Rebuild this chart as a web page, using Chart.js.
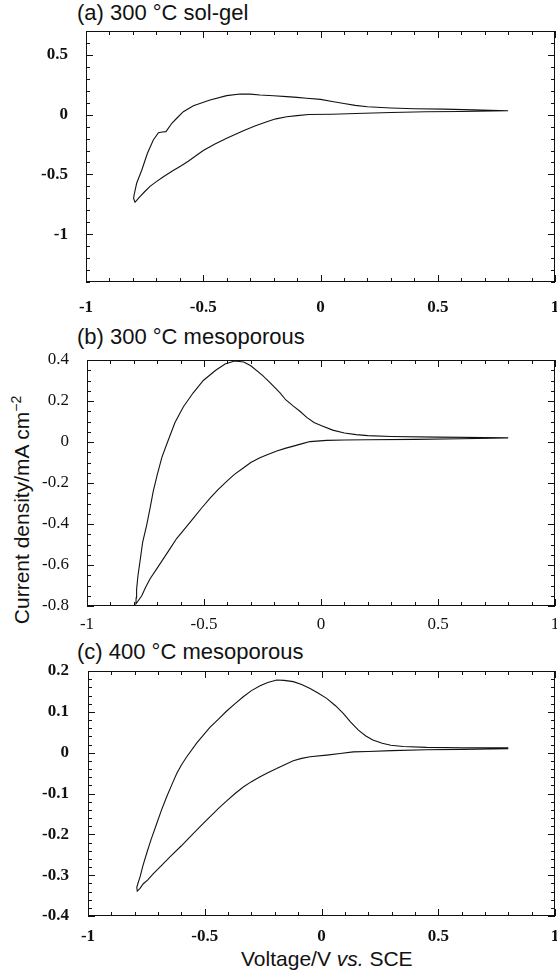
<!DOCTYPE html>
<html>
<head>
<meta charset="utf-8">
<script src="https://cdn.jsdelivr.net/npm/chart.js@4.4.1/dist/chart.umd.min.js"></script>
<style>
  body { margin: 0; background: #fff; width: 557px; height: 975px; position: relative; overflow: hidden;
         font-family: "Liberation Sans", Arial, sans-serif; color: #111; }
  canvas { position: absolute; left: 0; }
  .title { position: absolute; left: 77px; font-size: 22px; line-height: 22px; white-space: nowrap; }
  #ylabel { position: absolute; left: 21px; top: 510px; font-size: 21px; line-height: 21px; white-space: nowrap;
            transform: translate(-50%, -50%) rotate(-90deg); }
  #ylabel sup { font-size: 14px; vertical-align: 8px; line-height: 0; }
  #xlabel { position: absolute; left: 241px; top: 948px; font-size: 21px; line-height: 21px; white-space: nowrap; }
</style>
</head>
<body>
<div class="title" style="top:2px">(a) 300 °C sol-gel</div>
<div class="title" style="top:326px">(b) 300 °C mesoporous</div>
<div class="title" style="top:641px">(c) 400 °C mesoporous</div>
<div id="ylabel">Current density/mA cm<sup>−2</sup></div>
<div id="xlabel">Voltage/V <i>vs.</i> SCE</div>

<canvas id="panel-a" width="557" height="330" style="top:0px"></canvas>
<canvas id="panel-b" width="557" height="330" style="top:325px"></canvas>
<canvas id="panel-c" width="557" height="330" style="top:640px"></canvas>

<script>
/* 순환전압전류 곡선 3개 패널 */

const X_TICKS = [-1, -0.5, 0, 0.5, 1];
const A_TICKS = [-1, -0.5, 0, 0.5];
const B_TICKS = [-0.8, -0.6, -0.4, -0.2, 0, 0.2, 0.4];
const C_TICKS = [-0.4, -0.3, -0.2, -0.1, 0, 0.1, 0.2];

// (a) 300 °C sol-gel : 0.8 V에서 음극 방향 → 꼭지점 → 양극 방향 복귀
const A_V = [0.8, 0.6, 0.45, 0.3, 0.15, 0.05, -0.05, -0.1, -0.144, -0.19, -0.229, -0.28, -0.329, -0.4, -0.45,
  -0.5, -0.564, -0.592, -0.63, -0.67, -0.7, -0.727, -0.75, -0.77, -0.783, -0.791,
  -0.797, -0.795, -0.784, -0.762, -0.738, -0.713, -0.691, -0.675, -0.659, -0.634, -0.613, -0.585, -0.542,
  -0.471, -0.4, -0.343, -0.3, -0.258, -0.2, -0.144, -0.1, -0.059, 0, 0.05, 0.1, 0.148, 0.2, 0.3, 0.4,
  0.527, 0.65, 0.8];
const A_J = [0.033, 0.027, 0.024, 0.018, 0.01, 0.004, 0.002, -0.008, -0.017, -0.035, -0.059, -0.095, -0.134,
  -0.197, -0.245, -0.3, -0.39, -0.425, -0.47, -0.519, -0.56, -0.6, -0.645, -0.686, -0.715, -0.733,
  -0.7, -0.672, -0.574, -0.463, -0.323, -0.212, -0.151, -0.145, -0.142, -0.072, -0.03, 0.025, 0.075,
  0.123, 0.159, 0.173, 0.172, 0.165, 0.158, 0.151, 0.145, 0.137, 0.128, 0.11, 0.093, 0.078, 0.066, 0.056,
  0.05, 0.046, 0.04, 0.033];

// (b) 300 °C mesoporous
const B_V = [0.8, 0.6, 0.4, 0.2, 0.1, 0.024, -0.047, -0.08, -0.118, -0.15, -0.189, -0.23, -0.261, -0.3,
  -0.332, -0.37, -0.403, -0.44, -0.474, -0.51, -0.546, -0.58, -0.617, -0.645, -0.674, -0.7, -0.731, -0.75,
  -0.766, -0.791,
  -0.79, -0.788, -0.782, -0.774, -0.762, -0.745, -0.73, -0.717, -0.7, -0.68, -0.659, -0.624, -0.588,
  -0.546, -0.503, -0.45, -0.41, -0.37, -0.33, -0.3, -0.25, -0.218, -0.175, -0.15, -0.118, -0.09, -0.061,
  -0.03, 0, 0.05, 0.1, 0.15, 0.2, 0.3, 0.5, 0.8];
const B_J = [0.02, 0.016, 0.013, 0.011, 0.01, 0.008, 0.002, -0.008, -0.02, -0.03, -0.044, -0.062, -0.077,
  -0.1, -0.127, -0.158, -0.192, -0.232, -0.274, -0.322, -0.373, -0.42, -0.471, -0.52, -0.57, -0.615,
  -0.668, -0.71, -0.75, -0.79,
  -0.76, -0.718, -0.65, -0.586, -0.488, -0.405, -0.32, -0.241, -0.16, -0.075, -0.01, 0.095, 0.172, 0.24,
  0.3, 0.35, 0.38, 0.395, 0.39, 0.372, 0.325, 0.29, 0.24, 0.205, 0.175, 0.15, 0.12, 0.095, 0.08, 0.058,
  0.044, 0.036, 0.031, 0.027, 0.024, 0.021];

// (c) 400 °C mesoporous
const C_V = [0.8, 0.6, 0.45, 0.3, 0.2, 0.136, 0.08, 0.022, -0.049, -0.085, -0.121, -0.16, -0.192, -0.23,
  -0.263, -0.3, -0.335, -0.37, -0.406, -0.44, -0.478, -0.52, -0.563, -0.6, -0.649, -0.69, -0.72, -0.745,
  -0.763, -0.778, -0.789,
  -0.791, -0.785, -0.777, -0.765, -0.749, -0.73, -0.706, -0.685, -0.663, -0.64, -0.62, -0.6, -0.577,
  -0.534, -0.478, -0.44, -0.406, -0.37, -0.335, -0.3, -0.263, -0.23, -0.192, -0.16, -0.121, -0.085,
  -0.049, -0.015, 0.022, 0.06, 0.093, 0.125, 0.158, 0.19, 0.22, 0.26, 0.297, 0.35, 0.45, 0.6, 0.8];
const C_J = [0.01, 0.008, 0.007, 0.005, 0.003, 0.002, -0.002, -0.006, -0.01, -0.014, -0.02, -0.03, -0.039,
  -0.049, -0.059, -0.071, -0.084, -0.1, -0.118, -0.136, -0.157, -0.181, -0.206, -0.228, -0.255, -0.279,
  -0.296, -0.312, -0.321, -0.333, -0.339,
  -0.33, -0.318, -0.304, -0.277, -0.247, -0.213, -0.174, -0.14, -0.108, -0.077, -0.051, -0.03, -0.01,
  0.024, 0.062, 0.083, 0.102, 0.12, 0.137, 0.152, 0.164, 0.172, 0.178, 0.177, 0.174, 0.167, 0.157, 0.146,
  0.133, 0.115, 0.096, 0.075, 0.055, 0.041, 0.031, 0.023, 0.018, 0.015, 0.013, 0.012, 0.012];

const INK = "#111";
const SERIF = '"Liberation Serif", "Times New Roman", serif';

/* ── 테두리 + 안쪽 눈금 ── */
const frame = {
  id: "frame",
  afterDatasetsDraw(chart, args, opts) {
    const { ctx, chartArea: a, scales } = chart;
    ctx.save();
    ctx.strokeStyle = INK;
    ctx.lineWidth = 1;
    ctx.strokeRect(a.left + 0.5, a.top + 0.5, a.right - a.left - 1, a.bottom - a.top - 1);
    ctx.beginPath();
    const isMajor = (v, step) => Math.abs(v / step - Math.round(v / step)) < 1e-6;
    const xs = scales.x;
    const nx = Math.round((xs.max - xs.min) / 0.1);
    for (let k = 0; k <= nx; k++) {
      const v = xs.min + k * 0.1;
      const px = Math.round(xs.getPixelForValue(v)) + 0.5;
      const len = isMajor(v, 0.5) ? 7 : 4;
      ctx.moveTo(px, a.bottom); ctx.lineTo(px, a.bottom - len);
      ctx.moveTo(px, a.top); ctx.lineTo(px, a.top + len);
    }
    const ys = scales.y;
    const ny = Math.round((ys.max - ys.min) / opts.minor);
    for (let k = 0; k <= ny; k++) {
      const v = ys.min + k * opts.minor;
      const py = Math.round(ys.getPixelForValue(v)) + 0.5;
      const len = isMajor(v, opts.major) ? 7 : 4;
      ctx.moveTo(a.left, py); ctx.lineTo(a.left + len, py);
      ctx.moveTo(a.right, py); ctx.lineTo(a.right - len, py);
    }
    ctx.stroke();
    ctx.restore();
  },
};

function makePanel(id, volts, amps, yTicks, o) {
  return new Chart(document.getElementById(id), {
    type: "scatter",
    data: {
      datasets: [{
        data: volts.map((x, i) => ({ x, y: amps[i] })),
        showLine: true,
        borderColor: INK,
        borderWidth: 1.1,
        pointRadius: 0,
        tension: 0,
        fill: false,
      }],
    },
    options: {
      responsive: false,
      animation: false,
      devicePixelRatio: 1,
      layout: { padding: o.pad },
      plugins: {
        legend: { display: false },
        tooltip: { enabled: false },
        frame: { minor: o.yMinor, major: o.yMajor },
      },
      scales: {
        x: {
          type: "linear", min: -1, max: 1,
          grid: { display: false }, border: { display: false },
          afterBuildTicks: (s) => { s.ticks = X_TICKS.map((value) => ({ value })); },
          afterFit: (s) => { s.height = 40; s.paddingLeft = 0; s.paddingRight = 0; },
          ticks: { font: o.font, color: INK, padding: o.xPad, maxRotation: 0, autoSkip: false,
                   callback: (v) => String(v) },
        },
        y: {
          type: "linear", min: o.yMin, max: o.yMax,
          grid: { display: false }, border: { display: false },
          afterBuildTicks: (s) => { s.ticks = yTicks.map((value) => ({ value })); },
          afterFit: (s) => { s.width = 50; s.paddingTop = 0; s.paddingBottom = 0; },
          ticks: { font: o.font, color: INK, padding: o.yPad, autoSkip: false,
                   callback: (v) => String(v) },
        },
      },
    },
    plugins: [frame],
  });
}

const boldFont = { family: SERIF, size: 17, weight: "bold" };
const plainFont = { family: SERIF, size: 17, weight: "normal" };

// 캔버스 높이 330, x축 높이 40 → bottom 패딩 = 330 - 플롯 하단 - 40
makePanel("panel-a", A_V, A_J, A_TICKS, {
  pad: { left: 36, right: 2, top: 31, bottom: 8 },
  yMin: -1.4, yMax: 0.7, yMinor: 0.1, yMajor: 0.5,
  font: boldFont, xPad: 7, yPad: 10,
});
makePanel("panel-b", B_V, B_J, B_TICKS, {
  pad: { left: 37, right: 2, top: 35, bottom: 9 },
  yMin: -0.8, yMax: 0.4, yMinor: 0.05, yMajor: 0.2,
  font: plainFont, xPad: 0, yPad: 10,
});
makePanel("panel-c", C_V, C_J, C_TICKS, {
  pad: { left: 38, right: 2, top: 31, bottom: 14 },
  yMin: -0.4, yMax: 0.2, yMinor: 0.02, yMajor: 0.1,
  font: boldFont, xPad: 2, yPad: 11,
});
</script>
</body>
</html>
